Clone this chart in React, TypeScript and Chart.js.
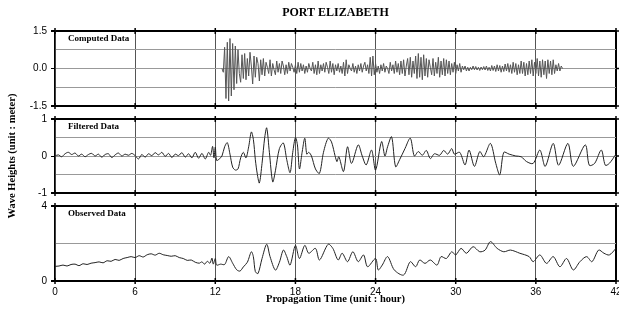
import React, { useEffect, useRef } from 'react';
import { Chart, registerables } from 'chart.js';
Chart.register(...registerables);

const SERIF = '"Liberation Serif", "Times New Roman", Times, serif';
const SANS = '"Liberation Sans", Arial, Helvetica, sans-serif';

const TITLE = 'PORT ELIZABETH';
const Y_TITLE = 'Wave Heights (unit : meter)';
const X_TITLE = 'Propagation Time (unit : hour)';
const PANEL_LABELS = ['Computed Data', 'Filtered Data', 'Observed Data'];

const X_MIN = 0;
const X_MAX = 42;
const X_STEP = 6;

const Y1_RANGE = [-1.5, 1.5];
const Y1_STEP = 0.75;
const Y1_LABELED = [-1.5, 0, 1.5];
const Y1_TEXT = ['-1.5', '0.0', '1.5'];

const Y2_RANGE = [-1, 1];
const Y2_STEP = 0.5;
const Y2_LABELED = [-1, 0, 1];
const Y2_TEXT = ['-1', '0', '1'];

const Y3_RANGE = [0, 4];
const Y3_STEP = 2;
const Y3_LABELED = [0, 4];
const Y3_TEXT = ['0', '4'];

// Computed data: hours from 12.5, every 0.1 h
const COMPUTED_START = 12.5;
const COMPUTED_STEP = 0.1;
const COMPUTED = [
  0.0, -0.15, 0.85, -1.2, 1.05, -1.3, 1.2, -1.1, 1.0, -0.85,
  0.9, -0.6, 0.75, -0.2, -0.55, 0.55, -0.4, 0.6, -0.45, 0.4,
  -0.3, 0.65, 0.1, -0.62, 0.5, -0.35, 0.45, 0.2, -0.5, 0.35,
  -0.25, 0.4, -0.3, 0.25, 0.05, -0.2, 0.35, -0.3, 0.2, -0.05,
  -0.25, 0.3, -0.15, 0.2, -0.2, 0.3, 0.1, -0.25, 0.15, -0.2,
  0.25, -0.1, 0.2, 0.05, -0.15, 0.15, -0.2, 0.25, -0.15, 0.2,
  -0.1, 0.15, -0.2, 0.1, -0.15, 0.2, 0.0, -0.1, 0.25, -0.2,
  0.15, -0.25, 0.3, -0.2, 0.15, -0.1, 0.2, -0.15, 0.25, 0.05,
  -0.2, 0.3, -0.15, 0.2, -0.25, 0.15, -0.1, 0.2, -0.15, 0.1,
  -0.2, 0.25, -0.3, 0.35, -0.2, 0.15, 0.0, -0.1, 0.2, -0.15,
  0.1, -0.2, 0.15, -0.1, 0.2, -0.15, 0.1, 0.25, -0.1, 0.15,
  -0.2, 0.45, -0.3, 0.5, -0.25, 0.2, -0.15, 0.1, -0.2, 0.15,
  -0.1, 0.2, -0.15, 0.1, 0.0, -0.2, 0.25, -0.1, 0.15, -0.2,
  0.3, -0.15, 0.2, -0.25, 0.3, -0.2, 0.35, -0.3, 0.1, 0.4,
  -0.25, 0.45, -0.35, 0.3, -0.2, 0.5, -0.4, 0.6, -0.35, 0.45,
  -0.45, 0.55, -0.3, 0.4, -0.35, 0.35, 0.05, -0.25, 0.4, -0.3,
  0.25, -0.2, 0.45, -0.35, 0.3, -0.25, 0.4, -0.3, 0.35, -0.2,
  0.3, -0.25, 0.2, -0.15, 0.25, -0.2, 0.15, -0.1, 0.2, -0.15,
  0.1, -0.05, 0.1, -0.1, 0.05, -0.1, 0.05, -0.05, 0.1, -0.05,
  0.08, -0.06, 0.05, -0.08, 0.06, -0.05, 0.08, -0.06, 0.1, -0.08,
  0.05, -0.1, 0.12, -0.08, 0.1, -0.12, 0.15, -0.1, 0.12, -0.15,
  0.1, -0.12, 0.18, -0.1, 0.2, -0.15, 0.15, -0.2, 0.25, -0.15,
  0.2, -0.25, 0.15, -0.2, 0.3, -0.2, 0.25, -0.3, 0.2, -0.25,
  0.3, -0.2, 0.35, -0.3, 0.25, -0.2, 0.4, -0.3, 0.3, -0.35,
  0.35, -0.25, 0.3, -0.4, 0.35, -0.2, 0.3, -0.25, 0.35, -0.2,
  0.15, -0.1, 0.2, -0.1, 0.1, 0.0,
];

// Filtered data (hours, metres)
const FILTERED_T = [
  0, 0.25, 0.5, 0.75, 1.0, 1.25, 1.5, 1.75, 2.0, 2.25, 2.5, 2.75, 3.0, 3.25, 3.5, 3.75,
  4.0, 4.25, 4.5, 4.75, 5.0, 5.25, 5.5, 5.75, 6.0, 6.25, 6.5, 6.75, 7.0, 7.25, 7.5, 7.75,
  8.0, 8.25, 8.5, 8.75, 9.0, 9.25, 9.5, 9.75, 10.0, 10.25, 10.5, 10.75, 11.0, 11.25, 11.5,
  11.65, 11.8, 11.9, 12.0, 12.1, 12.3, 12.5, 12.7, 12.9, 13.1, 13.3, 13.5, 13.7, 13.9,
  14.1, 14.3, 14.5, 14.7, 14.85, 15.0, 15.15, 15.3, 15.5, 15.7, 15.85, 16.05, 16.3, 16.5,
  16.8, 17.1, 17.35, 17.6, 17.8, 18.0, 18.15, 18.3, 18.5, 18.7, 18.85, 19.0, 19.2, 19.5,
  19.8, 20.1, 20.45, 20.7, 21.1, 21.25, 21.6, 21.9, 22.2, 22.7, 23.0, 23.3, 23.7, 24.0,
  24.45, 24.7, 24.9, 25.2, 25.5, 25.8, 26.2, 26.6, 26.9, 27.2, 27.5, 27.8, 28.1, 28.4,
  28.8, 29.1, 29.4, 29.7, 29.9, 30.3, 30.7, 31.0, 31.4, 31.8, 32.1, 32.6, 33.0, 33.3,
  33.6, 34.0, 34.5, 34.9, 35.3, 35.8, 36.3, 36.7, 37.3, 37.7, 38.4, 38.8, 39.7, 40.0,
  40.4, 40.9, 41.2, 41.5, 42.0,
];
const FILTERED_V = [
  0.0, 0.03, -0.02, 0.06, 0.1, 0.04, 0.08, 0.0, 0.05, -0.02, 0.04, 0.07, 0.0, 0.05, -0.03, 0.04,
  0.06, -0.04, 0.03, 0.08, 0.0, 0.05, 0.02, 0.07, 0.01, -0.08, 0.04, -0.03, 0.06, 0.01, 0.09, 0.03,
  0.1, -0.01, 0.07, -0.04, 0.05, 0.01, 0.09, -0.03, 0.06, -0.05, 0.1, -0.06, 0.07, -0.08, 0.1,
  0.02, 0.26, -0.05, 0.24, -0.12, -0.08, 0.0, 0.25, 0.36, 0.05, -0.3, -0.38, -0.35, -0.05,
  0.1, -0.05, 0.25, 0.65, 0.45, -0.1, -0.5, -0.73, -0.2, 0.5, 0.76, 0.1, -0.7, -0.4,
  0.2, 0.35, -0.1, -0.45, 0.1, 0.5, 0.3, -0.35, 0.1, 0.48, 0.05, 0.1, 0.0, -0.35,
  -0.47, 0.1, 0.48, 0.38, -0.15, -0.02, -0.42, 0.25, -0.2, 0.3, 0.0, -0.24, 0.16, -0.38,
  0.39, 0.0, 0.25, 0.52, -0.29, -0.1, 0.2, 0.48, 0.0, 0.12, 0.02, 0.15, -0.07, 0.06,
  0.02, 0.15, 0.05, 0.2, 0.05, 0.1, -0.24, 0.16, -0.28, 0.12, -0.02, 0.34, -0.2, -0.51,
  0.1, 0.05, 0.0, -0.02, -0.15, -0.2, 0.16, -0.28, 0.34, -0.25, 0.34, -0.28, 0.3, -0.25,
  -0.2, 0.16, -0.25, -0.2, 0.05,
];

// Observed data (hours, metres)
const OBSERVED_T = [
  0, 0.3, 0.6, 0.9, 1.2, 1.5, 1.8, 2.1, 2.4, 2.7, 3.0, 3.3, 3.6, 3.9, 4.2, 4.5, 4.8,
  5.1, 5.4, 5.7, 6.0, 6.3, 6.6, 6.9, 7.2, 7.5, 7.8, 8.1, 8.4, 8.7, 9.0, 9.3, 9.6, 9.9,
  10.2, 10.5, 10.8, 11.0, 11.2, 11.4, 11.6, 11.75, 11.85, 12.0, 12.1, 12.4, 12.7, 13.0,
  13.3, 13.6, 13.85, 14.1, 14.4, 14.7, 14.85, 15.0, 15.2, 15.5, 15.85, 16.1, 16.5, 16.8,
  17.1, 17.35, 17.6, 18.0, 18.3, 18.7, 19.0, 19.5, 19.8, 20.45, 20.8, 21.2, 21.5, 21.9,
  22.3, 22.7, 23.1, 23.4, 24.0, 24.2, 24.5, 24.9, 25.4, 26.1, 26.6, 27.0, 27.3, 27.7,
  28.1, 28.6, 28.9, 29.3, 29.7, 30.0, 30.4, 30.8, 31.3, 31.8, 32.2, 32.6, 33.1, 33.6,
  34.1, 34.8, 35.5, 35.8, 36.3, 36.8, 37.3, 37.8, 38.3, 38.8, 39.3, 39.8, 40.2, 40.7,
  41.1, 41.5, 42.0,
];
const OBSERVED_V = [
  0.78, 0.8, 0.85, 0.8, 0.88, 0.9, 0.82, 0.92, 0.88, 0.95, 0.98, 1.02, 0.97, 1.08, 1.05, 1.15, 1.1,
  1.2, 1.25, 1.3, 1.25, 1.35, 1.28, 1.4, 1.45, 1.38, 1.48, 1.4, 1.36, 1.32, 1.35, 1.25, 1.2, 1.1,
  1.12, 1.0, 0.95, 1.02, 0.9, 1.05, 0.95, 1.22, 0.9, 1.2, 0.85, 0.9, 0.88, 1.3,
  0.95, 0.6, 0.53, 0.75, 1.0, 1.56, 1.3, 0.5, 0.4, 1.2, 1.96, 1.3, 0.58, 1.0,
  1.65, 1.3, 0.85, 1.9, 1.2, 1.9, 1.48, 1.74, 1.12, 1.96, 1.74, 1.12, 1.48, 1.03,
  1.56, 1.03, 1.39, 0.76, 1.2, 0.59, 0.85, 1.3, 0.59, 0.32, 1.03, 0.76, 1.12, 0.94,
  1.12, 0.85, 1.3, 1.2, 1.56, 1.39, 1.74, 1.48, 1.83, 1.56, 1.65, 2.1, 1.74, 1.56,
  1.65, 1.48, 1.3, 1.03, 1.39, 0.94, 1.3, 0.76, 1.2, 0.59, 1.03, 1.3, 1.03, 1.65,
  1.48, 1.39, 1.74,
];

const decor = {
  id: 'decor',
  afterDraw(chart: any, _args: any, opts: any) {
    const { ctx, chartArea: a, scales } = chart;
    const xs = scales.x;
    const ys = scales.y;
    ctx.save();
    ctx.strokeStyle = '#000';
    ctx.lineWidth = 1.5;
    ctx.beginPath();
    xs.ticks.forEach((t: any) => {
      const px = xs.getPixelForValue(t.value);
      ctx.moveTo(px, a.top - 3);
      ctx.lineTo(px, a.top + 3);
      ctx.moveTo(px, a.bottom - 3);
      ctx.lineTo(px, a.bottom + 3);
    });
    (opts.marks || []).forEach((v: number) => {
      const py = ys.getPixelForValue(v);
      ctx.moveTo(a.right, py);
      ctx.lineTo(a.right + 3, py);
    });
    ctx.stroke();
    ctx.fillStyle = '#000';
    ctx.font = `bold 9px ${SERIF}`;
    ctx.textBaseline = 'middle';
    ctx.textAlign = 'left';
    ctx.fillText(opts.label, a.left + 13, a.top + 8);
    ctx.restore();
  },
};

function makeConfig(p: any): any {
  const [ymin, ymax] = p.yRange;
  const isLabeled = (v: number) => p.labeled.some((l: number) => Math.abs(l - v) < 1e-9);
  return {
    type: 'line',
    data: {
      datasets: [
        {
          data: p.points,
          borderColor: p.color,
          borderWidth: 1,
          pointRadius: 0,
          tension: p.tension,
          fill: false,
        },
      ],
    },
    options: {
      animation: false,
      responsive: false,
      events: [],
      layout: { padding: { left: 0, right: 3, top: p.padTop, bottom: 0 } },
      plugins: {
        legend: { display: false },
        tooltip: { enabled: false },
        title: p.title
          ? {
              display: true,
              text: p.title,
              fullSize: false,
              color: '#000',
              font: { family: SERIF, size: 12, weight: 'bold' },
              padding: { top: 6, bottom: 10.6 },
            }
          : { display: false },
        decor: { label: p.label, marks: p.labeled },
      },
      scales: {
        x: {
          type: 'linear',
          min: X_MIN,
          max: X_MAX,
          afterFit: (s: any) => {
            s.height = p.xAxisH;
            s.paddingLeft = 0;
            s.paddingRight = 0;
          },
          ticks: {
            display: p.showXTicks,
            stepSize: X_STEP,
            padding: 5,
            color: '#000',
            autoSkip: false,
            maxRotation: 0,
            font: { family: SANS, size: 10 },
          },
          grid: {
            drawTicks: false,
            color: (c: any) =>
              c.tick && (c.tick.value === X_MIN || c.tick.value === X_MAX) ? '#000' : '#555',
            lineWidth: (c: any) =>
              c.tick && c.tick.value === X_MAX ? 2 : c.tick && c.tick.value === X_MIN ? 1.5 : 1,
          },
          border: { display: true, color: '#000', width: 2 },
          title: p.xTitle
            ? {
                display: true,
                text: p.xTitle,
                color: '#000',
                font: { family: SERIF, size: 10.5, weight: 'bold' },
                padding: { top: 0, bottom: 4 },
              }
            : { display: false },
        },
        y: {
          type: 'linear',
          min: ymin,
          max: ymax,
          afterFit: (s: any) => {
            s.width = 55;
            s.paddingTop = 0;
            s.paddingBottom = 0;
          },
          ticks: {
            stepSize: p.yStep,
            padding: 4,
            color: '#000',
            autoSkip: false,
            font: { family: SANS, size: 10 },
            callback: (v: number) => {
              const i = p.labeled.findIndex((l: number) => Math.abs(l - v) < 1e-9);
              return i >= 0 ? p.text[i] : '';
            },
          },
          grid: {
            drawTicks: true,
            tickLength: 4,
            tickColor: (c: any) => (c.tick && isLabeled(c.tick.value) ? '#000' : 'rgba(0,0,0,0)'),
            color: (c: any) =>
              c.tick && (c.tick.value === ymin || c.tick.value === ymax) ? '#000' : '#999',
            lineWidth: (c: any) =>
              c.tick && (c.tick.value === ymin || c.tick.value === ymax) ? 2 : 1,
          },
          border: { display: true, color: '#000', width: 1.5 },
          title: p.yTitle
            ? {
                display: true,
                text: p.yTitle,
                color: '#000',
                font: { family: SERIF, size: 10.5, weight: 'bold' },
                padding: { top: 6, bottom: 0 },
              }
            : { display: false },
        },
      },
    },
    plugins: [decor],
  };
}

export default function App() {
  const r1 = useRef<HTMLCanvasElement>(null);
  const r2 = useRef<HTMLCanvasElement>(null);
  const r3 = useRef<HTMLCanvasElement>(null);

  useEffect(() => {
    const computedPts = COMPUTED.map((v, i) => ({ x: COMPUTED_START + i * COMPUTED_STEP, y: v }));
    const filteredPts = FILTERED_T.map((t, i) => ({ x: t, y: FILTERED_V[i] }));
    const observedPts = OBSERVED_T.map((t, i) => ({ x: t, y: OBSERVED_V[i] }));

    const c1 = new Chart(
      r1.current as HTMLCanvasElement,
      makeConfig({
        points: computedPts,
        color: '#555',
        tension: 0,
        yRange: Y1_RANGE,
        yStep: Y1_STEP,
        labeled: Y1_LABELED,
        text: Y1_TEXT,
        label: PANEL_LABELS[0],
        title: TITLE,
        padTop: 0,
        xAxisH: 8,
        showXTicks: false,
      })
    );
    const c2 = new Chart(
      r2.current as HTMLCanvasElement,
      makeConfig({
        points: filteredPts,
        color: '#222',
        tension: 0.3,
        yRange: Y2_RANGE,
        yStep: Y2_STEP,
        labeled: Y2_LABELED,
        text: Y2_TEXT,
        label: PANEL_LABELS[1],
        yTitle: Y_TITLE,
        padTop: 29,
        xAxisH: 27,
        showXTicks: false,
      })
    );
    const c3 = new Chart(
      r3.current as HTMLCanvasElement,
      makeConfig({
        points: observedPts,
        color: '#222',
        tension: 0.3,
        yRange: Y3_RANGE,
        yStep: Y3_STEP,
        labeled: Y3_LABELED,
        text: Y3_TEXT,
        label: PANEL_LABELS[2],
        xTitle: X_TITLE,
        padTop: 6,
        xAxisH: 29,
        showXTicks: true,
      })
    );
    return () => {
      c1.destroy();
      c2.destroy();
      c3.destroy();
    };
  }, []);

  return (
    <div style={{ position: 'absolute', left: 0, top: 0, width: 619, height: 310, background: '#fff', overflow: 'hidden' }}>
      <canvas ref={r1} width={619} height={114} style={{ position: 'absolute', left: 0, top: 0, display: 'block' }} />
      <canvas ref={r2} width={619} height={130} style={{ position: 'absolute', left: 0, top: 90, display: 'block' }} />
      <canvas ref={r3} width={619} height={110} style={{ position: 'absolute', left: 0, top: 200, display: 'block' }} />
    </div>
  );
}
